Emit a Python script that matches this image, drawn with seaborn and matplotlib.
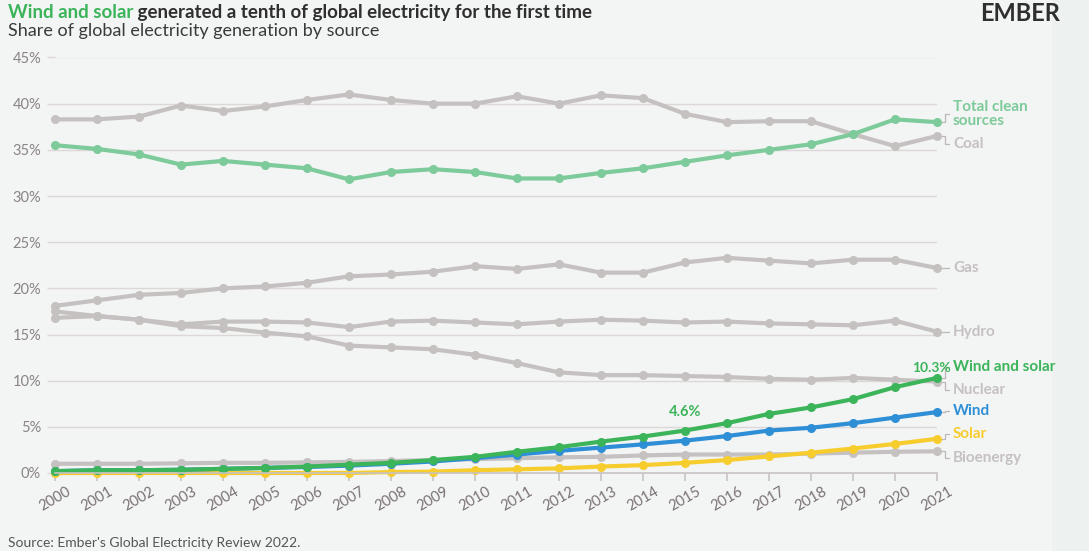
import matplotlib
matplotlib.use('Agg')
import matplotlib.pyplot as plt
from matplotlib.patches import Rectangle
import seaborn as sns
import pandas as pd

years = list(range(2000, 2022))
coal = [38.3, 38.3, 38.6, 39.8, 39.2, 39.7, 40.4, 41.0, 40.4, 40.0, 40.0, 40.8, 40.0, 40.9, 40.6, 38.9, 38.0, 38.1, 38.1, 36.7, 35.4, 36.5]
clean = [35.5, 35.1, 34.5, 33.4, 33.8, 33.4, 33.0, 31.8, 32.6, 32.9, 32.6, 31.9, 31.9, 32.5, 33.0, 33.7, 34.4, 35.0, 35.6, 36.7, 38.3, 38.0]
gas = [18.1, 18.7, 19.3, 19.5, 20.0, 20.2, 20.6, 21.3, 21.5, 21.8, 22.4, 22.1, 22.6, 21.7, 21.7, 22.8, 23.3, 23.0, 22.7, 23.1, 23.1, 22.2]
hydro = [16.8, 17.0, 16.6, 16.1, 16.4, 16.4, 16.3, 15.8, 16.4, 16.5, 16.3, 16.1, 16.4, 16.6, 16.5, 16.3, 16.4, 16.2, 16.1, 16.0, 16.5, 15.3]
nuclear = [17.5, 17.0, 16.6, 15.9, 15.7, 15.2, 14.8, 13.8, 13.6, 13.4, 12.8, 11.9, 10.9, 10.6, 10.6, 10.5, 10.4, 10.2, 10.1, 10.3, 10.1, 9.9]
wind_solar = [0.2, 0.3, 0.3, 0.35, 0.45, 0.55, 0.7, 0.9, 1.1, 1.4, 1.75, 2.3, 2.8, 3.4, 3.95, 4.6, 5.4, 6.4, 7.1, 8.0, 9.3, 10.3]
wind = [0.2, 0.3, 0.3, 0.35, 0.45, 0.55, 0.65, 0.8, 1.0, 1.25, 1.6, 2.0, 2.4, 2.75, 3.1, 3.5, 4.0, 4.6, 4.9, 5.4, 6.0, 6.6]
solar = [0.0, 0.0, 0.0, 0.0, 0.0, 0.0, 0.0, 0.0, 0.1, 0.15, 0.3, 0.4, 0.5, 0.7, 0.85, 1.1, 1.4, 1.8, 2.2, 2.65, 3.15, 3.7]
bioenergy = [1.0, 1.0, 1.0, 1.05, 1.1, 1.1, 1.15, 1.2, 1.3, 1.4, 1.5, 1.6, 1.7, 1.75, 1.9, 2.0, 2.0, 2.0, 2.1, 2.2, 2.3, 2.35]

series = {
    'Coal': coal, 'Gas': gas, 'Hydro': hydro, 'Nuclear': nuclear, 'Bioenergy': bioenergy,
    'Total clean sources': clean, 'Solar': solar, 'Wind': wind, 'Wind and solar': wind_solar,
}

GREY = '#c6c1c1'
palette = {
    'Coal': GREY, 'Gas': GREY, 'Hydro': GREY, 'Nuclear': GREY, 'Bioenergy': GREY,
    'Total clean sources': '#7dca9a', 'Solar': '#f7cd2e', 'Wind': '#2f8fd6', 'Wind and solar': '#3bb45a',
}
# label text, label y position (data units)
end_labels = {
    'Total clean sources': ('Total clean\nsources', 38.9),
    'Coal': ('Coal', 35.6),
    'Gas': ('Gas', 22.2),
    'Hydro': ('Hydro', 15.3),
    'Wind and solar': ('Wind and solar', 11.5),
    'Nuclear': ('Nuclear', 9.0),
    'Wind': ('Wind', 6.7),
    'Solar': ('Solar', 4.2),
    'Bioenergy': ('Bioenergy', 1.6),
}

df = pd.DataFrame([
    {'year': y, 'share': v, 'source': name}
    for name, vals in series.items() for y, v in zip(years, vals)
])

BG = '#f3f4f4'
sns.set_theme(style='white')
plt.rcParams['font.family'] = ['Lato', 'DejaVu Sans']

fig = plt.figure(figsize=(10.89, 5.51), dpi=100, facecolor=BG)
fig.patches.append(Rectangle((1052 / 1089, 0), 37 / 1089, 1, transform=fig.transFigure,
                             facecolor='#edf1ef', edgecolor='none', zorder=-5))
ax = fig.add_axes([55 / 1089, 1 - 473 / 551, 882 / 1089, 415.5 / 551])
ax.set_facecolor(BG)
ax.patch.set_alpha(0)

sns.lineplot(data=df, x='year', y='share', hue='source', hue_order=list(series.keys()),
             palette=palette, marker='o', markersize=6.5, markeredgewidth=0,
             linewidth=3, legend=False, ax=ax)
for ln in ax.lines:
    ln.set_clip_on(False)

ax.set_xlim(2000, 2021)
ax.set_ylim(0, 45)
ax.set_yticks(range(0, 50, 5))
ax.set_yticklabels([f'{t}%' for t in range(0, 50, 5)])
ax.set_xticks(years)
ax.set_xticklabels([str(y) for y in years], rotation=30, ha='center')
ax.grid(axis='y', color='#dcd8d8', linewidth=1)
ax.set_axisbelow(True)
for s in ['top', 'right', 'left']:
    ax.spines[s].set_visible(False)
ax.spines['bottom'].set_color('#c8c3c3')
ax.spines['bottom'].set_linewidth(1.2)
ax.tick_params(axis='x', colors='#c8c3c3', labelcolor='#7a7272', labelsize=10.5,
               length=6, width=1.2, direction='out', bottom=True, pad=2)
ax.tick_params(axis='y', colors='#dcd8d8', labelcolor='#8a8484', labelsize=10.5,
               length=6, width=1, left=True, pad=4)
ax.set_xlabel('')
ax.set_ylabel('')

# end labels with little connector hooks
for name, (txt, ly) in end_labels.items():
    col = palette[name]
    py = series[name][-1]
    ax.plot([2021.12, 2021.2, 2021.2, 2021.28], [py, py, ly, ly], color='#bdb8b8',
            linewidth=0.9, clip_on=False)
    ax.text(2021.38, ly, txt, color=col, fontsize=11, fontweight='bold',
            va='center', ha='left', linespacing=1.0)

ax.annotate('10.3%', xy=(2021, wind_solar[21]), xytext=(-4, 3), textcoords='offset points',
            ha='center', va='bottom', color='#3bb45a', fontsize=10, fontweight='bold')
ax.annotate('4.6%', xy=(2015, wind_solar[15]), xytext=(0, 8), textcoords='offset points',
            ha='center', va='bottom', color='#3bb45a', fontsize=10.5, fontweight='bold')

# title
TITLE_BASE = 1 - 18 / 551
t1 = fig.text(8 / 1089, TITLE_BASE, 'Wind and solar', color='#3bb45a', fontsize=13.5,
              fontweight='bold', ha='left', va='baseline')
t2 = fig.text(0.5, TITLE_BASE, ' generated a tenth of global electricity for the first time',
              color='#2f2f2f', fontsize=13.5, fontweight='bold', ha='left', va='baseline')
fig.canvas.draw()
bb = t1.get_window_extent()
t2.set_position((bb.x1 / fig.bbox.width, TITLE_BASE))
fig.text(1060 / 1089, 1 - 2 / 551, 'EMBER', color='#2f2f2f', fontsize=17,
         fontweight='bold', ha='right', va='top')
fig.text(8 / 1089, 1 - 31 / 551, 'Share of global electricity generation by source',
         color='#3a3a3a', fontsize=13, ha='left', va='center')
fig.text(8 / 1089, 1 - 543 / 551, "Source: Ember's Global Electricity Review 2022.",
         color='#555555', fontsize=10, ha='left', va='center')

fig.savefig('out.png', dpi=100, facecolor=BG)
